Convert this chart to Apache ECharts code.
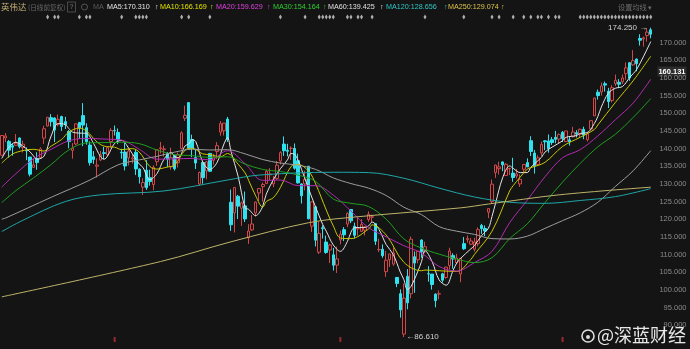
<!DOCTYPE html>
<html><head><meta charset="utf-8">
<script src="https://cdn.jsdelivr.net/npm/echarts@6.0.0/dist/echarts.min.js"></script>
<style>html,body{margin:0;padding:0;background:#141414}#c{width:690px;height:349px}</style>
</head><body><div id="c"></div>
<script>
// trading days (categories)
const monthDays = [
 ['2024-10',[21,22,23,24,25,28,29,30,31]],
 ['2024-11',[1,4,5,6,7,8,11,12,13,14,15,18,19,20,21,22,25,26,27,29]],
 ['2024-12',[2,3,4,5,6,9,10,11,12,13,16,17,18,19,20,23,24,26,27,30,31]],
 ['2025-01',[2,3,6,7,8,10,13,14,15,16,17,21,22,23,24,27,28,29,30,31]],
 ['2025-02',[3,4,5,6,7,10,11,12,13,14,18,19,20,21,24,25,26,27,28]],
 ['2025-03',[3,4,5,6,7,10,11,12,13,14,17,18,19,20,21,24,25,26,27,28,31]],
 ['2025-04',[1,2,3,4,7,8,9,10,11,14,15,16,17,21,22,23,24,25,28,29,30]],
 ['2025-05',[1,2,5,6,7,8,9,12,13,14,15,16,19,20,21,22,23,27,28,29,30]],
 ['2025-06',[2,3,4,5,6,9,10,11,12,13,16,17,18,20,23,24,25,26,27,30]],
 ['2025-07',[1,2,3,7,8,9,10,11,14,15,16,17,18]]
];
const dates = monthDays.flatMap(([m, ds]) => ds.map(d => m + '-' + String(d).padStart(2, '0')));

// [open, close, low, high]
const ohlc = [
[138.13,143.71,138.0,143.71],[143.0,143.59,141.8,144.42],[142.03,139.56,137.46,142.43],[140.82,140.41,138.0,141.35],[140.93,141.54,140.8,144.13],
[143.0,140.52,140.05,143.14],[140.29,141.25,138.9,142.26],[139.54,139.34,136.7,140.33],[137.6,132.76,132.11,137.61],[134.7,135.4,134.57,137.31],
[137.21,136.05,134.0,138.96],[137.45,139.91,137.28,140.37],[142.96,145.61,141.33,146.49],[146.39,148.88,146.25,148.93],[148.77,147.63,146.26,149.77],
[148.68,145.26,141.82,148.85],[146.78,148.29,146.3,149.65],[149.07,146.27,145.0,149.33],[147.64,146.76,145.55,149.0],[144.87,141.98,140.08,145.24],
[139.5,140.15,137.15,141.55],[141.32,147.01,140.99,147.13],[147.41,145.89,142.73,147.56],[149.35,146.67,140.7,152.89],[145.93,141.95,141.1,147.16],
[141.0,136.02,135.2,142.05],[137.7,136.92,135.67,139.3],[135.01,135.34,131.8,137.22],[136.78,138.25,136.47,139.35],[138.83,138.63,137.02,140.45],
[138.26,140.26,137.8,140.54],[142.0,145.14,140.3,145.79],[145.11,145.06,143.7,146.54],[144.6,142.44,141.27,145.7],[138.97,138.81,137.13,139.95],
[139.01,135.07,133.82,141.82],[137.36,139.31,135.22,140.17],[137.08,137.34,135.8,138.44],[138.94,134.25,132.5,139.6],[134.18,132.0,130.1,134.4],
[129.09,130.39,126.86,131.59],[133.86,128.91,128.28,136.7],[131.76,130.68,129.5,134.03],[129.81,134.7,128.22,135.28],[136.28,139.67,135.11,139.79],
[140.02,140.22,138.65,141.9],[139.7,139.93,137.72,140.85],[138.55,137.01,134.71,139.02],[134.83,137.49,134.01,140.27],[138.03,134.29,133.78,138.07],
[136.0,138.31,134.63,138.88],[140.01,144.47,139.73,144.9],[148.59,149.43,147.82,152.16],[153.03,140.14,140.01,153.13],[142.58,140.11,137.56,143.95],
[137.45,135.91,134.22,139.92],[129.99,133.23,129.5,133.49],[136.05,131.76,130.05,136.38],[133.65,136.24,131.29,136.45],[138.64,133.57,133.49,138.75],
[136.69,137.71,135.46,138.5],[139.16,140.83,137.09,141.83],[144.66,147.07,143.65,147.79],[145.05,147.22,143.72,147.23],[148.37,142.62,141.88,148.97],
[124.8,118.42,116.7,128.4],[121.81,128.99,116.25,129.0],[126.5,123.7,120.05,126.89],[123.1,124.65,118.1,125.0],[123.78,120.07,119.2,127.85],
[114.75,116.66,113.01,118.57],[116.96,118.65,116.71,121.2],[121.76,124.83,120.76,125.0],[127.42,128.68,125.21,128.77],[129.22,129.84,125.0,130.37],
[130.09,133.57,129.96,134.0],[132.58,132.8,131.0,134.48],[130.02,131.14,129.08,132.24],[131.56,135.29,131.2,136.5],[136.48,138.85,135.5,139.25],
[141.27,139.4,137.93,143.44],[139.51,139.23,137.79,141.36],[140.03,140.11,136.79,140.67],[140.04,134.43,134.04,141.46],[136.56,130.28,130.11,138.59],
[129.98,126.63,124.44,130.2],[129.99,131.28,128.16,133.73],[135.0,120.15,119.93,135.01],[118.02,124.92,116.4,125.09],[123.51,114.06,112.28,123.7],
[110.65,115.99,110.11,119.31],[117.58,117.3,114.51,118.28],[113.53,110.57,110.22,115.35],[111.25,112.69,107.56,113.0],[109.9,106.98,105.46,111.85],
[106.99,108.76,104.77,112.23],[114.12,115.74,112.88,116.77],[117.03,115.58,113.79,117.76],[118.61,121.67,117.75,121.89],[122.74,119.53,118.89,122.86],
[118.0,115.43,114.54,119.02],[117.27,117.52,115.36,120.45],[116.55,118.53,116.5,120.0],[116.9,117.7,115.39,117.99],[119.88,121.41,119.26,122.22],
[120.55,120.69,119.11,121.29],[118.73,113.76,112.7,118.84],[111.35,111.43,110.72,114.45],[111.49,109.67,109.07,112.87],[105.13,108.38,103.65,110.96],
[108.52,110.15,106.47,110.2],[107.29,110.42,106.79,111.98],[103.51,101.8,100.76,103.54],[98.91,94.31,92.11,100.13],[87.46,97.64,86.61,101.75],
[103.81,96.3,94.46,105.85],[98.89,114.33,97.53,115.1],[109.37,107.57,99.15,110.86],[108.5,110.93,107.5,111.0],[114.11,110.71,109.07,114.29],
[110.97,112.2,110.4,113.62],[104.55,104.49,102.3,106.7],[104.45,101.49,100.05,104.47],[98.77,96.91,95.04,99.0],[98.78,98.89,97.28,99.81],
[104.52,102.71,102.04,104.8],[103.48,106.43,103.11,106.54],[106.85,111.01,105.73,111.92],[109.69,108.73,105.98,110.37],[107.67,109.02,107.44,110.2],
[104.47,108.92,102.15,108.92],[113.08,111.61,111.3,114.94],[114.18,114.5,113.36,115.4],[112.91,113.82,112.68,114.67],[111.48,113.54,110.82,114.74],
[113.05,117.06,112.3,117.68],[118.25,117.37,115.85,118.68],[117.35,116.65,115.21,118.23],[121.97,123.0,120.28,123.0],[124.98,129.93,124.5,131.22],
[133.2,135.34,131.7,135.44],[134.3,134.83,132.66,136.3],[136.22,135.4,133.6,136.35],[132.39,135.57,132.37,135.87],[134.29,134.38,132.5,134.58],
[133.06,131.8,130.59,137.4],[132.23,132.83,131.55,134.25],[130.0,131.29,129.16,132.68],[134.15,135.5,133.3,135.66],[136.03,134.81,134.78,137.25],
[142.25,139.19,137.91,143.49],[138.72,135.13,132.92,139.62],[135.49,137.38,135.11,138.12],[138.78,141.22,137.95,142.0],[142.19,141.92,139.54,142.39],
[142.17,139.99,138.83,144.0],[142.51,141.72,141.05,143.27],[143.19,142.63,141.52,145.0],[142.69,143.96,141.4,144.29],[144.61,142.83,141.87,144.99],
[141.97,145.0,141.85,145.0],[142.48,141.97,140.85,143.58],[143.35,144.69,143.2,146.18],[144.49,144.12,143.16,145.22],[144.01,145.48,143.1,145.65],
[145.45,143.85,142.65,146.2],[142.5,144.17,142.03,144.78],[145.56,147.9,145.5,147.96],[149.27,154.31,149.26,154.45],[155.98,155.02,153.89,156.72],
[156.04,157.75,155.0,158.71],[158.37,157.99,156.15,158.99],[156.29,153.3,151.49,157.2],[153.63,157.25,153.08,157.97],[158.35,159.34,157.71,160.98],
[158.79,158.24,157.13,159.68],[158.91,160.0,158.3,161.0],[161.22,162.88,159.5,164.42],[164.32,160.0,159.2,164.5],[163.72,164.92,163.5,167.89],
[165.37,164.07,161.9,165.49],[171.19,170.7,169.2,172.4],[171.06,171.37,168.9,171.75],[172.02,173.0,170.3,174.16],[173.64,172.41,171.26,174.25]
];

// moving averages, [day index, value]
const ma5 = [[0,137.2],[2,140.4],[4,141.8],[6,140.7],[8,139.1],[9,137.9],[10,137.0],[12,137.9],[14,143.6],[16,147.1],[18,146.8],[19,145.7],[20,144.7],[22,144.4],[24,144.3],[26,141.5],[28,137.7],[29,137.0],[30,137.9],[32,141.5],[34,142.3],[36,140.1],[38,137.0],[39,135.6],[40,134.7],[42,131.2],[44,132.9],[46,137.0],[48,138.9],[49,137.8],[50,137.4],[52,140.8],[53,141.3],[54,142.5],[55,142.0],[57,136.2],[59,134.1],[61,136.0],[63,141.3],[64,143.1],[65,139.2],[67,132.2],[69,123.2],[70,122.8],[72,121.0],[73,121.8],[74,123.7],[75,127.1],[77,131.2],[79,134.3],[81,136.8],[82,138.6],[83,138.4],[84,136.7],[85,134.1],[87,128.6],[89,123.4],[91,118.5],[92,116.6],[94,112.7],[96,110.9],[98,113.7],[99,116.3],[100,117.6],[103,117.7],[104,118.1],[105,119.2],[107,117.0],[109,112.8],[111,110.0],[113,105.0],[114,102.9],[115,100.1],[116,100.9],[118,105.3],[119,108.0],[120,111.1],[122,108.0],[124,102.8],[126,101.3],[128,105.6],[129,107.6],[130,108.8],[133,111.6],[134,112.5],[136,115.3],[138,117.5],[139,120.8],[140,124.5],[142,131.7],[144,135.1],[145,134.4],[147,133.2],[149,133.2],[150,134.7],[153,137.5],[154,139.0],[156,140.4],[159,142.2],[160,143.2],[163,143.7],[164,144.3],[166,144.5],[168,147.1],[169,149.1],[170,151.8],[172,155.7],[174,157.1],[176,157.6],[178,160.1],[179,161.2],[180,162.4],[182,166.2],[184,170.31]];
const ma10 = [[0,135.9],[2,137.7],[4,138.9],[9,139.8],[12,139.3],[14,140.7],[17,142.6],[19,144.7],[22,145.8],[24,145.0],[27,141.9],[29,140.7],[32,140.4],[34,139.7],[37,140.0],[39,139.0],[42,134.9],[44,134.2],[47,134.8],[49,135.3],[52,139.6],[54,140.1],[57,138.5],[59,138.3],[62,137.7],[64,138.6],[67,135.6],[69,133.1],[70,131.0],[72,126.6],[74,123.4],[75,125.0],[77,126.1],[79,129.0],[82,134.9],[84,135.5],[87,133.6],[89,130.0],[92,122.6],[94,118.1],[96,114.7],[99,114.5],[104,117.2],[105,118.4],[109,115.5],[114,107.8],[119,105.4],[120,105.6],[124,105.4],[129,105.2],[133,108.6],[134,110.0],[139,116.6],[144,128.0],[145,129.5],[149,134.2],[150,134.6],[154,136.1],[159,140.6],[164,143.2],[168,145.4],[169,146.7],[174,153.1],[179,159.2],[184,166.169]];
const ma20 = [[0,129.1],[4,132.9],[9,137.1],[14,139.8],[19,142.2],[24,142.9],[29,142.7],[34,142.4],[39,139.8],[44,137.0],[49,137.1],[54,137.2],[59,136.8],[64,139.4],[69,135.7],[74,131.0],[79,131.1],[84,129.5],[89,129.5],[94,126.8],[99,122.3],[104,117.6],[109,115.0],[114,112.5],[119,110.4],[124,106.6],[129,105.3],[134,107.7],[139,110.9],[144,119.0],[149,125.4],[154,132.0],[159,137.4],[164,139.7],[169,143.6],[174,148.2],[179,152.9],[184,159.629]];
const ma30 = [[0,124.7],[4,128.1],[9,131.7],[14,135.5],[19,139.6],[24,141.6],[29,141.7],[34,141.8],[39,141.4],[44,139.6],[49,138.3],[54,138.0],[59,137.5],[64,137.7],[69,135.6],[74,134.1],[79,133.5],[84,132.5],[89,130.7],[94,125.7],[99,124.5],[104,123.6],[109,120.0],[114,114.4],[119,111.8],[124,110.1],[129,108.7],[134,107.7],[139,109.1],[144,114.5],[149,118.7],[154,124.7],[159,130.5],[164,135.8],[169,140.5],[174,144.1],[179,148.8],[184,154.164]];
const ma60 = [[0,120.0],[1,120.3],[14,126.2],[25,131.1],[33,135.4],[39,136.8],[44,137.8],[49,139.0],[54,139.8],[59,139.6],[64,139.7],[69,138.5],[74,136.9],[79,135.9],[84,135.3],[89,134.1],[94,131.7],[99,130.1],[104,128.8],[109,126.7],[114,123.4],[119,121.3],[124,117.9],[129,116.6],[134,115.7],[139,114.5],[144,114.4],[149,115.2],[154,117.4],[159,119.6],[164,121.8],[169,124.8],[174,129.3],[179,133.7],[184,139.425]];
const ma120 = [[0,116.5],[6,119.7],[18,125.0],[28,126.9],[46,128.0],[64,131.1],[73,132.5],[94,133.3],[104,133.2],[114,131.6],[124,128.8],[134,126.3],[144,124.8],[154,124.5],[164,125.3],[174,126.4],[184,128.656]];
const ma250 = [[0,98.0],[45,108.0],[65,113.6],[87,119.0],[101,120.7],[130,123.2],[138,124.3],[158,126.9],[184,129.074]];

// markers
const eventIdx = [13,15,16,22,24,25,34,38,39,40,41,51,53,59,79,86,90,91,92,93,94,98,99,101,102,105,120,131,139,141,145,148,150,152,153,155,157,158,164,165,166,167,168,169,170,171,172,173,174,175,176,177,178,179,180,181,182,183,184];
const dividendIdx = [32, 96, 159];
const yTicks = {min: 85, max: 175, step: 5};

const maDefs = [
  {name:'MA5', data:ma5, line:'#e4e4e4', text:'#e6e6e6', x:107, ax:155},
  {name:'MA10', data:ma10, line:'#c9c900', text:'#e3e300', x:160, ax:210},
  {name:'MA20', data:ma20, line:'#b02cb0', text:'#e040e0', x:216, ax:267},
  {name:'MA30', data:ma30, line:'#1f9f1f', text:'#2fd02f', x:273, ax:323},
  {name:'MA60', data:ma60, line:'#9c9c9c', text:'#e0e0e0', x:328, ax:380},
  {name:'MA120', data:ma120, line:'#1ea6a6', text:'#2fc6c6', x:386, ax:444},
  {name:'MA250', data:ma250, line:'#bdb36a', text:'#dcc24a', x:448, ax:501}
];

const UP = '#d24848', DOWN = '#30e2ee', BG = '#141414';
const NUM = 'Liberation Sans, Arial, sans-serif';
const CJK = 'Noto Sans CJK SC, sans-serif';

const gridMain = {left: 0, top: 25.05, width: 652.5, height: 317.7};

const graphics = [
  {type:'text', x:1, y:7, style:{text:'英伟达', fill:'#c8b27a', font:'8.5px ' + CJK, verticalAlign:'middle'}},
  {type:'text', x:28, y:7, style:{text:'(日线前复权)', fill:'#686868', font:'6.6px ' + CJK, verticalAlign:'middle'}},
  {type:'rect', shape:{x:67.5, y:2, width:8, height:10}, style:{fill:'none', stroke:'#4a4a4a', lineWidth:1}},
  {type:'text', x:71.5, y:7, style:{text:'?', fill:'#777', font:'7px ' + NUM, align:'center', verticalAlign:'middle'}},
  {type:'circle', shape:{cx:84.5, cy:7, r:3}, style:{fill:'none', stroke:'#555', lineWidth:1}},
  {type:'text', x:93, y:7, style:{text:'MA', fill:'#5c5c5c', font:'7.2px ' + NUM, verticalAlign:'middle'}},
  {type:'text', x:618, y:7, style:{text:'设置均线 ▾', fill:'#6c6c6c', font:'7.2px ' + CJK, verticalAlign:'middle'}},
  {type:'text', x:686.5, y:71.5, style:{text:'160.131', fill:'#ffffff', font:'bold 7.5px ' + NUM, align:'right', verticalAlign:'middle', backgroundColor:'#2c2c2c', padding:[1,1]}},
  {type:'circle', shape:{cx:588, cy:336, r:6}, style:{fill:'none', stroke:'rgba(255,255,255,0.85)', lineWidth:1.6}},
  {type:'circle', shape:{cx:588, cy:337, r:2}, style:{fill:'rgba(255,255,255,0.85)'}},
  {type:'text', x:597, y:335, style:{text:'@深蓝财经', fill:'rgba(255,255,255,0.9)', font:'18px ' + CJK, verticalAlign:'middle'}}
];
maDefs.forEach(m => {
  const last = m.data[m.data.length - 1][1];
  graphics.push({type:'text', x:m.x, y:7, style:{text:m.name + ':' + last.toFixed(3), fill:m.text, font:'7.2px ' + NUM, verticalAlign:'middle'}});
  graphics.push({type:'text', x:m.ax, y:7, style:{text:'↑', fill:m.text, font:'7.2px ' + NUM, verticalAlign:'middle'}});
});

const hiddenX = (gi) => ({type:'category', gridIndex:gi, data:dates, boundaryGap:true, show:false});

const option = {
  backgroundColor: BG,
  animation: false,
  grid: [
    gridMain,
    {left: 0, top: 13, width: 652.5, height: 8},
    {left: 0, top: 336, width: 652.5, height: 7}
  ],
  xAxis: [hiddenX(0), hiddenX(1), hiddenX(2)],
  yAxis: [
    {type:'value', gridIndex:0, position:'right', min:yTicks.min, max:yTicks.max, interval:yTicks.step,
     axisLine:{show:false}, axisTick:{show:false}, splitLine:{show:false},
     axisLabel:{showMinLabel:false, showMaxLabel:false, color:'#8a8a8a', fontSize:7.5, fontFamily:NUM,
       align:'right', margin:34, formatter: v => v.toFixed(3)}},
    {type:'value', gridIndex:1, min:0, max:1, show:false},
    {type:'value', gridIndex:2, min:0, max:1, show:false}
  ],
  graphic: graphics,
  series: [
    {type:'candlestick', xAxisIndex:0, yAxisIndex:0, data: ohlc, barWidth: 3,
     itemStyle:{color: BG, color0: DOWN, borderColor: UP, borderColor0: DOWN, borderWidth: 1},
     markPoint:{
       symbol:'rect', symbolSize:1, itemStyle:{color:'rgba(0,0,0,0)'},
       label:{show:true, color:'#d2d2d2', fontSize:8, fontFamily:NUM},
       data:[
         {type:'max', valueDim:'highest', label:{position:'left', distance:3, formatter: p => p.value.toFixed(3) + ' →'}},
         {type:'min', valueDim:'lowest', label:{position:'right', distance:2, formatter: p => '←' + p.value.toFixed(3)}}
       ]
     }},
    ...maDefs.map(m => ({type:'line', name:m.name, xAxisIndex:0, yAxisIndex:0, data:m.data, smooth:0.35,
      symbol:'none', lineStyle:{color:m.line, width:1}, silent:true})),
    {type:'scatter', xAxisIndex:1, yAxisIndex:1, data: eventIdx.map(i => [i, 0.5]), symbol:'diamond',
     symbolSize:[3,5], itemStyle:{color:'#d6d6d6'}, silent:true},
    {type:'scatter', xAxisIndex:2, yAxisIndex:2, data: dividendIdx.map(i => [i, 0.5]), symbol:'rect',
     symbolSize:[2,5], itemStyle:{color:'#b83232'}, silent:true}
  ]
};
const chart = echarts.init(document.getElementById('c'), null, {renderer:'canvas'});
chart.setOption(option);
</script>
</body></html>
